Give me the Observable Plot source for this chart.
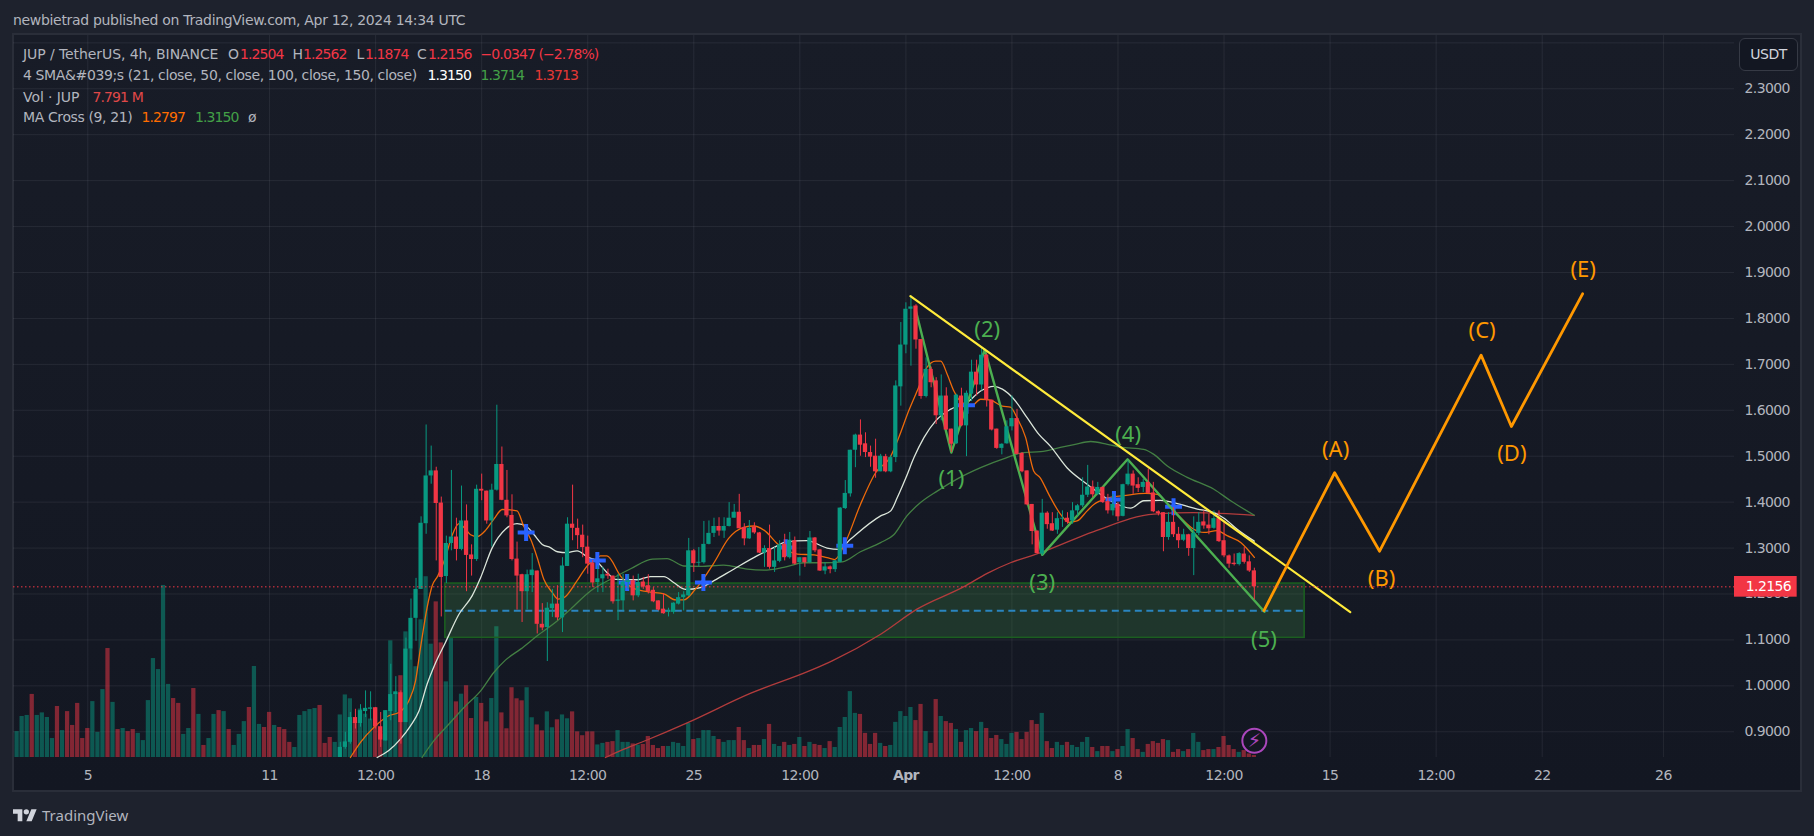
<!DOCTYPE html>
<html>
<head>
<meta charset="utf-8">
<script src="https://cdn.jsdelivr.net/npm/d3@7"></script>
<script src="https://cdn.jsdelivr.net/npm/@observablehq/plot@0.6"></script>
<style>
html,body{margin:0;padding:0;background:#1e222d;width:1814px;height:836px;overflow:hidden;font-family:"DejaVu Sans",sans-serif}
#title{position:absolute;left:13px;top:11px;font-size:14px;line-height:18px;color:#b2b5be;white-space:nowrap;letter-spacing:-.32px}
#frame{position:absolute;left:12px;top:33px;width:1790px;height:759px;box-sizing:border-box;border:2px solid #2a2e39;background:linear-gradient(#181c27,#131722)}
#chart{position:absolute;left:0;top:33px}
#chart svg{display:block}
#chart g[aria-label$="tick label"] text,#chart .tag text{letter-spacing:-.6px}
.lg{position:absolute;font-size:14px;line-height:18px;white-space:nowrap;color:#b2b5be;letter-spacing:-.38px}
.val{letter-spacing:-.9px}
.wide{letter-spacing:-.08px}
#usdt{position:absolute;left:1739px;top:38px;width:59px;height:33px;box-sizing:border-box;border:1px solid #363a45;border-radius:6px;background:#131722;color:#d1d4dc;font-size:14px;letter-spacing:-.5px;line-height:31px;text-align:center}
#brand{position:absolute;left:13px;top:805px;display:flex;align-items:center;gap:5px;color:#b2b5be;font-size:15px;font-family:"Noto Sans",sans-serif}
</style>
</head>
<body>
<div id="title">newbietrad published on TradingView.com, Apr 12, 2024 14:34 UTC</div>
<div id="frame"></div>
<div id="chart"></div>
<div id="legend"></div>
<div id="usdt">USDT</div>
<div id="brand"><svg width="24" height="13" viewBox="0 0 36 19"><path fill="#d1d4dc" d="M14 18H7V7H0V0h14v18zM28 18h-8L27.500 0h8L28 18z"/><circle cx="20" cy="4" r="4" fill="#d1d4dc"/></svg><span>TradingView</span></div>
<script>
// ---- candles, first one at bar -112 (bars are 4h, counted from Apr 1 00:00 UTC)
const firstCandle = -112;
const opens = [
.844,.866,.877,.931,.918,.944,.949,.952,.911,.880,
.944,.981,.985,.920,1.080,1.147,1.210,1.353,1.457,1.468,
1.398,1.238,1.310,1.324,1.297,1.359,1.285,1.275,1.428,1.424,
1.359,1.426,1.482,1.404,1.371,1.276,1.242,1.205,1.240,1.250,
1.134,1.127,1.168,1.178,1.148,1.260,1.352,1.343,1.328,1.302,
1.267,1.225,1.233,1.243,1.239,1.184,1.185,1.225,1.229,1.196,
1.226,1.218,1.208,1.185,1.167,1.160,1.160,1.178,1.192,1.196,
1.294,1.267,1.268,1.308,1.332,1.347,1.337,1.347,1.365,1.378,
1.345,1.320,1.346,1.333,1.289,1.299,1.258,1.271,1.308,1.279,
1.316,1.268,1.279,1.268,1.322,1.296,1.250,1.259,1.253,1.269,
1.386,1.418,1.513,1.546,1.527,1.508,1.500,1.466,1.499,1.466,
1.497,1.651,1.742,1.820,1.827,1.754,1.630,1.689,1.664,1.588,
1.631,1.559,1.527,1.631,1.566,1.635,1.683,1.655,1.720,1.622,
1.559,1.517,1.527,1.564,1.582,1.506,1.468,1.395,1.337,1.287,
1.376,1.353,1.339,1.363,1.365,1.359,1.381,1.392,1.415,1.433,
1.417,1.432,1.401,1.381,1.395,1.369,1.438,1.461,1.438,1.432,
1.443,1.420,1.379,1.377,1.323,1.356,1.330,1.317,1.329,1.299,
1.332,1.357,1.350,1.343,1.364,1.316,1.283,1.267,1.264,1.287,
1.270,1.2504];
const closes = [
.866,.878,.931,.918,.946,.951,.952,.911,.882,.946,
.981,.987,.920,1.080,1.147,1.210,1.354,1.457,1.468,1.397,
1.236,1.310,1.324,1.297,1.359,1.284,1.275,1.428,1.424,1.359,
1.426,1.482,1.404,1.370,1.275,1.239,1.205,1.242,1.252,1.134,
1.126,1.169,1.178,1.148,1.261,1.352,1.343,1.327,1.301,1.265,
1.224,1.233,1.242,1.239,1.183,1.187,1.226,1.229,1.196,1.225,
1.215,1.205,1.183,1.165,1.157,1.163,1.180,1.192,1.198,1.294,
1.266,1.269,1.308,1.332,1.347,1.337,1.347,1.365,1.378,1.342,
1.320,1.343,1.333,1.289,1.299,1.258,1.272,1.307,1.279,1.317,
1.265,1.279,1.268,1.322,1.294,1.250,1.259,1.253,1.272,1.387,
1.419,1.513,1.546,1.524,1.508,1.498,1.466,1.500,1.466,1.497,
1.653,1.742,1.820,1.825,1.753,1.630,1.689,1.660,1.588,1.631,
1.557,1.526,1.633,1.566,1.637,1.683,1.655,1.720,1.622,1.557,
1.517,1.526,1.564,1.582,1.504,1.466,1.394,1.336,1.288,1.376,
1.351,1.337,1.364,1.365,1.356,1.381,1.392,1.415,1.433,1.416,
1.432,1.399,1.381,1.395,1.368,1.438,1.461,1.435,1.430,1.443,
1.419,1.379,1.375,1.323,1.356,1.329,1.316,1.329,1.299,1.332,
1.356,1.348,1.342,1.364,1.314,1.283,1.265,1.264,1.288,1.269,
1.250,1.2156];
const highs = [
.877,.899,.942,.949,.959,.989,.987,.953,.942,.946,
1.047,1.020,.989,1.104,1.189,1.234,1.368,1.568,1.522,1.476,
1.411,1.326,1.469,1.365,1.435,1.394,1.307,1.437,1.461,1.424,
1.439,1.611,1.520,1.469,1.416,1.313,1.243,1.252,1.288,1.250,
1.179,1.181,1.210,1.218,1.279,1.366,1.437,1.363,1.350,1.326,
1.273,1.261,1.258,1.254,1.239,1.243,1.243,1.242,1.239,1.243,
1.236,1.242,1.214,1.185,1.201,1.169,1.181,1.203,1.205,1.321,
1.297,1.301,1.358,1.359,1.365,1.366,1.366,1.399,1.395,1.417,
1.353,1.360,1.355,1.334,1.305,1.350,1.301,1.316,1.330,1.334,
1.324,1.279,1.279,1.336,1.323,1.297,1.268,1.261,1.273,1.388,
1.447,1.513,1.548,1.579,1.551,1.522,1.537,1.504,1.504,1.502,
1.664,1.791,1.834,1.849,1.830,1.754,1.714,1.694,1.671,1.677,
1.649,1.559,1.635,1.648,1.642,1.709,1.709,1.736,1.722,1.622,
1.559,1.527,1.577,1.631,1.602,1.508,1.468,1.395,1.337,1.406,
1.379,1.377,1.377,1.381,1.377,1.399,1.395,1.453,1.480,1.446,
1.443,1.433,1.417,1.417,1.399,1.439,1.490,1.468,1.453,1.450,
1.472,1.443,1.381,1.377,1.377,1.388,1.345,1.341,1.330,1.368,
1.377,1.381,1.374,1.381,1.381,1.359,1.285,1.287,1.290,1.301,
1.283,1.2562];
const lows = [
.844,.862,.873,.906,.910,.931,.924,.906,.866,.880,
.924,.942,.873,.920,1.056,1.097,1.210,1.330,1.439,1.272,
1.150,1.223,1.294,1.272,1.294,1.205,1.239,1.271,1.403,1.352,
1.302,1.424,1.403,1.366,1.272,1.165,1.138,1.165,1.203,1.113,
1.120,1.053,1.149,1.142,1.116,1.260,1.316,1.297,1.279,1.243,
1.214,1.203,1.203,1.232,1.178,1.142,1.163,1.210,1.185,1.192,
1.210,1.200,1.181,1.163,1.156,1.150,1.156,1.176,1.163,1.194,
1.247,1.259,1.265,1.307,1.323,1.326,1.321,1.346,1.365,1.342,
1.305,1.319,1.330,1.288,1.258,1.254,1.247,1.268,1.272,1.276,
1.263,1.239,1.258,1.266,1.290,1.249,1.242,1.244,1.247,1.268,
1.384,1.411,1.475,1.500,1.497,1.476,1.452,1.466,1.464,1.464,
1.486,1.609,1.723,1.696,1.733,1.624,1.627,1.649,1.569,1.577,
1.557,1.508,1.526,1.564,1.499,1.619,1.631,1.642,1.607,1.555,
1.515,1.503,1.526,1.555,1.503,1.464,1.392,1.307,1.287,1.283,
1.341,1.336,1.330,1.345,1.352,1.352,1.370,1.388,1.410,1.410,
1.414,1.397,1.374,1.370,1.358,1.368,1.435,1.417,1.421,1.421,
1.417,1.377,1.370,1.292,1.317,1.323,1.299,1.314,1.282,1.240,
1.327,1.341,1.329,1.341,1.312,1.279,1.256,1.261,1.261,1.265,
1.247,1.1874];

// ---- volume in millions, first one at bar -176
const firstVolume = -176;
const volumes = [
101,160,164,246,164,174,156,74,199,105,179,125,211,74,113,218,98,265,425,215,109,113,101,109,94,66,222,386,343,671,285,230,211,90,113,269,168,47,74,168,183,179,109,47,90,140,195,355,129,117,176,125,117,109,59,39,164,179,187,191,203,55,78,59,
166,244,229,137,189,169,150,195,91,143,455,250,319,490,423,354,537,705,442,607,447,295,465,217,247,280,152,234,211,139,230,510,174,112,272,229,221,272,155,127,104,178,116,147,166,151,178,100,85,100,
100,49,55,59,62,105,
59,59,53,48,51,82,47,35,43,43,59,55,43,133,70,74,105,105,82,70,59,66,66,117,66,35,47,47,70,129,51,43,59,47,51,78,43,59,51,47,35,62,39,117,156,257,172,168,94,51,94,55,43,47,137,179,160,195,144,207,101,55,226,160,140,133,109,59,105,113,101,137,113,74,86,70,51,94,98,70,98,144,129,172,62,35,59,47,59,47,39,59,78,39,23,43,43,23,31,43,109,74,31,20,51,62,55,70,66,20,31,23,31,94,59,27,31,31,39,82,47,31,20,27,14,7.791];
// direction of the volume bars that come before the first candle
const earlyVolumeUp = [1,1,1,0,1,1,1,1,0,1,0,0,0,0,0,1,1,1,0,1,0,1,0,0,1,1,1,1,1,1,1,0,0,1,1,0,1,0,1,1,0,1,0,1,1,1,0,1,1,0,0,1,0,0,0,1,1,1,1,1,0,0,0,1];

// ---- moving averages at these bars
const ma9Bars = [-110,-108,-105.4,-102.4,-100.4,-98.4,-97.1,-96.1,-94.8,-93.8,-92.7,-91.2,-89.9,-88.5,-87.5,-86.2,-84.9,-83.2,-81.6,-79.9,-77,-75.7,-74.3,-73,-71.7,-70,-68.9,-67.7,-65.1,-62.8,-61.8,-60.5,-59.2,-56.5,-54.2,-51.2,-47.9,-45.6,-44,-41.7,-38,-35.1,-32.1,-30.1,-28.1,-25.2,-21.5,-18.2,-15.6,-14.1,-12,-9,-6,-3,-1.4,.6,2.5,4.2,5.9,6.9,8.2,9.5,11.1,13.1,14.8,16.8,19.1,20.7,22,23.7,25.3,26.6,28.3,30.6,32.3,33.9,35.9,37.2,38.5,40.2,43.1,47.4,49.8,52.4,54.4,57,59,61.6,63.6,66.3,69];
const ma9Values = [.844,.877,.909,.935,.942,.968,1.011,1.084,1.171,1.218,1.239,1.279,1.326,1.353,1.345,1.329,1.325,1.339,1.363,1.384,1.381,1.348,1.319,1.279,1.232,1.203,1.189,1.192,1.229,1.265,1.272,1.283,1.283,1.239,1.214,1.205,1.2,1.187,1.187,1.21,1.268,1.321,1.345,1.348,1.339,1.307,1.287,1.285,1.279,1.275,1.312,1.395,1.464,1.5,1.541,1.6,1.649,1.694,1.707,1.707,1.678,1.642,1.617,1.611,1.624,1.622,1.609,1.607,1.584,1.541,1.468,1.453,1.417,1.374,1.356,1.359,1.381,1.395,1.403,1.41,1.414,1.419,1.417,1.388,1.366,1.341,1.334,1.338,1.327,1.312,1.2797];
const ma21Bars = [-104.7,-102.4,-100.1,-98.1,-96.4,-94.8,-93.1,-91.2,-88.5,-85.9,-84.2,-81.9,-79.3,-77,-75,-73.7,-72,-70.4,-69,-67.1,-65.1,-62.8,-61.8,-59.2,-57.5,-53.2,-50.6,-47.9,-46,-43.6,-40.7,-38,-34.1,-29.5,-26.2,-23.8,-19.6,-15.6,-13.3,-11,-5,-3,-1.7,0,1.6,3.6,5.9,8.8,12.1,14.8,17.4,19.1,21.4,24,26.3,28.6,31.9,35.9,40.5,44.5,47.1,50.4,54.4,57.7,61,63,65.6,69];
const ma21Values = [.844,.859,.884,.913,.946,1.004,1.051,1.094,1.156,1.196,1.236,1.301,1.341,1.353,1.346,1.33,1.308,1.301,1.292,1.29,1.294,1.279,1.276,1.247,1.232,1.231,1.238,1.238,1.225,1.21,1.214,1.229,1.254,1.283,1.301,1.313,1.316,1.3,1.297,1.319,1.37,1.381,1.41,1.453,1.497,1.541,1.577,1.602,1.617,1.642,1.652,1.646,1.624,1.584,1.548,1.522,1.475,1.439,1.403,1.387,1.403,1.404,1.395,1.385,1.377,1.365,1.341,1.315];
const ma50Bars = [-95.8,-93.5,-90.8,-87.5,-84.2,-81.6,-79.3,-76.3,-73,-69,-66.4,-62.4,-57.8,-54.5,-50.2,-47.3,-44,-40.7,-36.1,-31.4,-28.1,-24.2,-20.2,-16.3,-12.6,-9,-5,-2.4,.2,2.9,6.2,10.1,14.8,20,23.3,26.7,30.6,33.3,36.6,39.9,42.5,47.1,49.1,51.7,55.7,61,64.3,69];
const ma50Values = [.844,.88,.913,.953,.989,1.029,1.056,1.08,1.109,1.142,1.167,1.207,1.236,1.255,1.276,1.277,1.261,1.26,1.263,1.254,1.252,1.258,1.268,1.268,1.27,1.292,1.312,1.329,1.37,1.399,1.424,1.45,1.475,1.497,1.508,1.51,1.519,1.525,1.532,1.526,1.52,1.515,1.504,1.479,1.454,1.428,1.403,1.3714];
const ma100Bars = [-59.5,-56.5,-51.5,-43.2,-30.7,-19,-14.6,-5,2.2,11.5,16.1,20.7,26.7,37.2,49.1,57,69];
const ma100Values = [.844,.859,.881,.92,.984,1.033,1.0545,1.1125,1.167,1.216,1.245,1.268,1.29,1.336,1.374,1.377,1.3713];

// ---- MA cross markers
const crossBars = [-75.2,-61.1,-55.2,-40.1,-23.8,-12.1,12,41.2,53];
const crossPrices = [1.334,1.273,1.225,1.225,1.301,1.305,1.611,1.406,1.39];

// ---- drawings
const trendBars = [.9,88], trendPrices = [1.8486,1.1604];
const waveBars = [1.9,9,15.6,27,43.9,71], wavePrices = [1.82,1.508,1.732,1.2852,1.4933,1.1612];
const waveLabels = ["(1)","(2)","(3)","(4)","(5)"];
const waveLabelBars = [9,16.1,27,44,70.9], waveLabelPrices = [1.4515,1.7739,1.225,1.5462,1.0996];
const nextBars = [70.9,84.9,93.8,113.9,119.9,134], nextPrices = [1.164,1.464,1.2932,1.72,1.5647,1.8536];
const nextLabels = ["(A)","(B)","(C)","(D)","(E)"];
const nextLabelBars = [85.1,94.2,114.1,120,134.1], nextLabelPrices = [1.5146,1.233,1.7737,1.5053,1.9059];
const zoneBars = [-91.2,78.96], zoneTop = 1.2227, zoneBottom = 1.1045, zoneMid = 1.1633;
const lastPrice = 1.2156;

// ---- axes
const priceTicks = [.9,1,1.1,1.2,1.3,1.4,1.5,1.6,1.7,1.8,1.9,2,2.1,2.2,2.3];
const priceGrid = [...priceTicks,2.4];
const timeTickBars = [-162,-126,-105,-84,-63,-42,-21,0,21,42,63,84,105,126,150];
const timeTickLabels = ["5","11","12:00","18","12:00","25","12:00","Apr","12:00","8","12:00","15","12:00","22","26"];
const domainBars = [-176.71,164.08], domainPrices = [.844,2.416];

// ---- legend rows
const legendRows = [
 [[23,54,"JUP / TetherUS, 4h, BINANCE","#b2b5be",2],[228,54,"O","#b2b5be"],[240,54,"1.2504","#f23645",1],[292.500,54,"H","#b2b5be"],[303,54,"1.2562","#f23645",1],[356.500,54,"L","#b2b5be"],[365,54,"1.1874","#f23645",1],[417,54,"C","#b2b5be"],[428,54,"1.2156","#f23645",1],[480.500,54,"−0.0347 (−2.78%)","#f23645",1]],
 [[23,75,"4 SMA&#039;s (21, close, 50, close, 100, close, 150, close)","#b2b5be"],[427.500,75,"1.3150","#ffffff",1],[480.500,75,"1.3714","#43a047",1],[534.500,75,"1.3713","#e53935",1]],
 [[23,96.500,"Vol · JUP","#b2b5be",2],[92.500,96.500,"7.791 M","#e04848",1]],
 [[23,117,"MA Cross (9, 21)","#b2b5be"],[141.500,117,"1.2797","#ff6d00",1],[195,117,"1.3150","#43a047",1],[248,117,"ø","#b2b5be"]]
];

const bar = i => new Date(Date.UTC(2024,3,1) + i*4*3600e3);
const pairs = (bs,vs) => bs.map((b,k)=>({t:bar(b),v:vs[k]}));
const UP="#089981", DOWN="#f23645", HALF=.42;

const candles = opens.map((o,k)=>({i:firstCandle+k,o,c:closes[k],h:highs[k],l:lows[k]}));
const volRows = volumes.map((v,k)=>{
  const i=firstVolume+k, cd=candles[i-firstCandle];
  const up = cd ? cd.c>=cd.o : !!earlyVolumeUp[k];
  return {i,v,up};
});
const volBase = domainPrices[0], volToPrice = 1/(3.9*459.3);

const tickDates = timeTickBars.map(bar);
const tickText = d => timeTickLabels[tickDates.findIndex(t=>+t===+d)];
const labelTicks = tickDates.filter((d,k)=>timeTickLabels[k]!=="Apr");
const aprTicks = tickDates.filter((d,k)=>timeTickLabels[k]==="Apr");
const gridColor = "rgba(240,243,250,.075)";

const chart = Plot.plot({
  width:1814,height:758,marginLeft:13,marginRight:80,marginTop:2,marginBottom:34,
  style:{background:"transparent",color:"#b2b5be",fontFamily:"DejaVu Sans",fontSize:"14px"},
  x:{type:"utc",domain:domainBars.map(bar)},
  y:{type:"linear",domain:domainPrices},
  color:{type:"identity"},
  marks:[
    Plot.ruleX(tickDates,{stroke:gridColor,strokeWidth:1}),
    Plot.ruleY(priceGrid,{stroke:gridColor,strokeWidth:1}),
    // volume
    Plot.rect(volRows,{x1:d=>bar(d.i-HALF),x2:d=>bar(d.i+HALF),y1:volBase,y2:d=>volBase+d.v*volToPrice,
      fill:d=>d.up?UP:DOWN,fillOpacity:.5}),
    // demand zone
    Plot.rect([0],{x1:bar(zoneBars[0]),x2:bar(zoneBars[1]),y1:zoneBottom,y2:zoneTop,fill:"#4caf50",fillOpacity:.2,stroke:"#1b5e20",strokeWidth:1.6}),
    Plot.ruleY([zoneMid],{x1:bar(zoneBars[0]),x2:bar(zoneBars[1]),stroke:"#2a85c0",strokeWidth:2,strokeDasharray:"7 4.5"}),
    // moving averages
    Plot.line(pairs(ma100Bars,ma100Values),{x:"t",y:"v",stroke:"#b23c3c",strokeWidth:1.3,curve:"monotone-x"}),
    Plot.line(pairs(ma50Bars,ma50Values),{x:"t",y:"v",stroke:"#437f43",strokeWidth:1.3,curve:"monotone-x"}),
    Plot.line(pairs(ma21Bars,ma21Values),{x:"t",y:"v",stroke:"#dbe5da",strokeWidth:1.3,curve:"monotone-x"}),
    Plot.line(pairs(ma9Bars,ma9Values),{x:"t",y:"v",stroke:"#ee6a0a",strokeWidth:1.3,curve:"monotone-x"}),
    Plot.dot(pairs(crossBars,crossPrices),{x:"t",y:"v",symbol:"plus",r:5.5,stroke:"#2962ff",strokeWidth:4}),
    // impulse wave
    Plot.line(pairs(waveBars,wavePrices),{x:"t",y:"v",stroke:"#4caf50",strokeWidth:2.4}),
    // candles
    Plot.ruleX(candles,{x:d=>bar(d.i),y1:"l",y2:"h",stroke:d=>d.c>=d.o?UP:DOWN,strokeWidth:1}),
    Plot.rect(candles,{x1:d=>bar(d.i-HALF),x2:d=>bar(d.i+HALF),y1:"o",y2:"c",fill:d=>d.c>=d.o?UP:DOWN}),
    // forward drawings
    Plot.line(pairs(trendBars,trendPrices),{x:"t",y:"v",stroke:"#ffeb3b",strokeWidth:2.2}),
    Plot.line(pairs(nextBars,nextPrices),{x:"t",y:"v",stroke:"#ff9800",strokeWidth:2.8}),
    Plot.text(waveLabels,{x:(d,k)=>bar(waveLabelBars[k]),y:(d,k)=>waveLabelPrices[k],text:d=>d,fill:"#4caf50",fontSize:22,fontFamily:"Noto Sans"}),
    Plot.text(nextLabels,{x:(d,k)=>bar(nextLabelBars[k]),y:(d,k)=>nextLabelPrices[k],text:d=>d,fill:"#ff9800",fontSize:22,fontFamily:"Noto Sans"}),
    // last price
    Plot.ruleY([lastPrice],{stroke:"#f23645",strokeWidth:1,strokeDasharray:"1.5 2.5"}),
    // axes
    Plot.axisX({ticks:labelTicks,tickFormat:tickText,tickSize:0,tickPadding:13,label:null,anchor:"bottom",fill:"#b2b5be",fontSize:14}),
    Plot.axisX({ticks:aprTicks,tickFormat:tickText,tickSize:0,tickPadding:13,label:null,anchor:"bottom",fill:"#b2b5be",fontSize:14,fontWeight:700}),
    Plot.axisY({ticks:priceTicks,tickFormat:d3.format(".4f"),tickSize:0,tickPadding:10,label:null,anchor:"right",fill:"#b2b5be",fontSize:14}),
    // last price tag
    Plot.rect([0],{x1:bar(domainBars[1]),x2:bar(domainBars[1]+12.41),y1:lastPrice-.0225,y2:lastPrice+.0225,fill:"#f23645"}),
    Plot.text([lastPrice],{x:bar(170.8),y:lastPrice,text:d3.format(".4f"),fill:"#ffffff",fontSize:14,className:"tag"}),
    // live-update badge
    Plot.dot([0],{x:bar(69),y:.8804,r:12,stroke:"#ab47bc",strokeWidth:2,fill:"#131722"}),
    Plot.text(["⚡"],{x:bar(69),y:.8804,text:d=>d,fill:"#ab47bc",fontSize:19})
  ]
});
document.getElementById("chart").append(chart);

const legend = document.getElementById("legend");
const legendClass = ["lg","lg val","lg wide"];
for (const row of legendRows) for (const [left,cy,text,color,kind] of row) {
  const s=document.createElement("span");
  s.className=legendClass[kind||0]; s.textContent=text; s.style.left=left+"px"; s.style.top=(cy-9)+"px"; s.style.color=color;
  legend.append(s);
}
</script>
</body>
</html>
